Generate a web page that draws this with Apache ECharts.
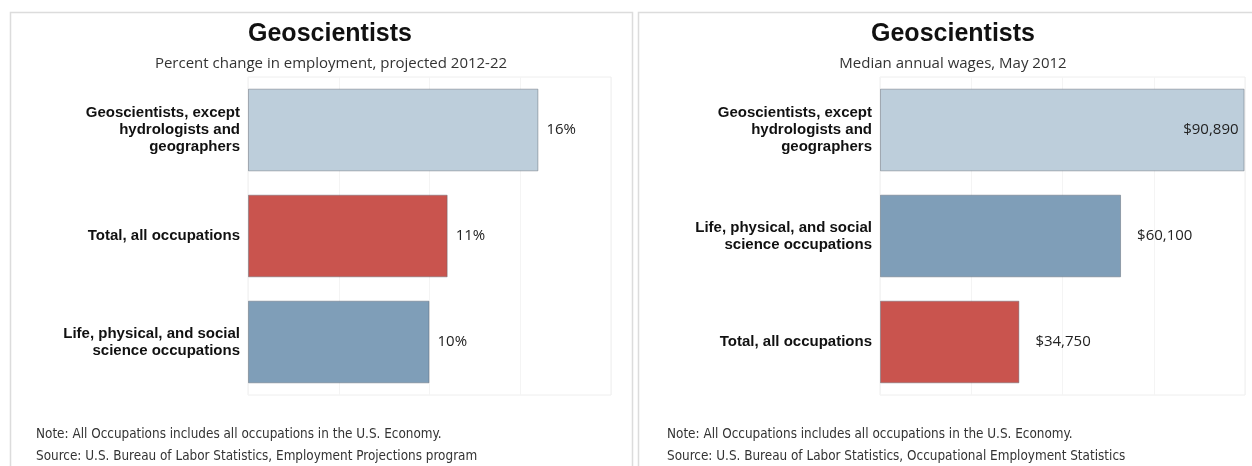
<!DOCTYPE html>
<html>
<head>
<meta charset="utf-8">
<script src="https://cdn.jsdelivr.net/npm/echarts@6/dist/echarts.min.js"></script>
<style>
  html, body { margin: 0; padding: 0; background: #fff; }
  #chart { width: 1252px; height: 466px; }
</style>
</head>
<body>
<div id="chart"></div>
<script>
// left panel: percent change in employment
const growthCats = ['Geoscientists, except\nhydrologists and\ngeographers', 'Total, all occupations', 'Life, physical, and social\nscience occupations']
const growthVals = [16, 11, 10]
const growthColors = ['#bdcedb', '#c9544e', '#7f9eb8']

// right panel: median annual wages
const wageCats = ['Geoscientists, except\nhydrologists and\ngeographers', 'Life, physical, and social\nscience occupations', 'Total, all occupations']
const wageVals = [90890, 60100, 34750]
const wageColors = ['#bdcedb', '#7f9eb8', '#c9544e']

const notes = 'Note: All Occupations includes all occupations in the U.S. Economy.'
const srcLeft = 'Source: U.S. Bureau of Labor Statistics, Employment Projections program'
const srcRight = 'Source: U.S. Bureau of Labor Statistics, Occupational Employment Statistics'

const myChart = echarts.init(document.getElementById('chart'))

const catLabel = {
  color: '#111',
  fontFamily: 'Liberation Sans',
  fontWeight: 'bold',
  fontSize: 15,
  lineHeight: 17,
  align: 'right',
  margin: 8
}

const footStyle = { fill: '#333', font: '13.4px "DejaVu Sans Condensed", "Liberation Sans"', textVerticalAlign: 'middle' }
const headStyle = { fontFamily: 'Liberation Sans', fontWeight: 'bold', fontSize: 25, color: '#111' }
const subStyle = { fontFamily: 'Open Sans', fontWeight: 'normal', fontSize: 15, color: '#333' }

function barItems (vals, colors) {
  return vals.map((v, i) => ({
    value: v,
    itemStyle: { color: colors[i], borderColor: 'rgba(90,100,110,0.45)', borderWidth: 1 }
  }))
}

const option = {
  animation: false,
  title: [
    { text: 'Geoscientists', left: 330, top: 22, padding: 0, textAlign: 'center', textStyle: headStyle },
    { text: 'Percent change in employment, projected 2012-22', left: 331, top: 56, padding: 0, textAlign: 'center', textStyle: subStyle },
    { text: 'Geoscientists', left: 953, top: 22, padding: 0, textAlign: 'center', textStyle: headStyle },
    { text: 'Median annual wages, May 2012', left: 953, top: 56, padding: 0, textAlign: 'center', textStyle: subStyle }
  ],
  graphic: [
    { type: 'rect', shape: { x: 10.5, y: 12.5, width: 622, height: 460 }, style: { fill: 'none', stroke: '#dcdcdc', lineWidth: 1.5 }, silent: true },
    { type: 'rect', shape: { x: 638.5, y: 12.5, width: 620, height: 460 }, style: { fill: 'none', stroke: '#dcdcdc', lineWidth: 1.5 }, silent: true },
    { type: 'text', x: 36, y: 435, style: Object.assign({ text: notes }, footStyle) },
    { type: 'text', x: 36, y: 457, style: Object.assign({ text: srcLeft }, footStyle) },
    { type: 'text', x: 667, y: 435, style: Object.assign({ text: notes }, footStyle) },
    { type: 'text', x: 667, y: 457, style: Object.assign({ text: srcRight }, footStyle) }
  ],
  grid: [
    { left: 248, width: 363, top: 77, height: 318, show: true, borderColor: '#eeeeee', borderWidth: 1 },
    { left: 880, width: 365, top: 77, height: 318, show: true, borderColor: '#eeeeee', borderWidth: 1 }
  ],
  xAxis: [
    { gridIndex: 0, type: 'value', min: 0, max: 20, interval: 5, axisLabel: { show: false }, axisLine: { show: false }, axisTick: { show: false }, splitLine: { show: true, lineStyle: { color: '#f4f4f4' } } },
    { gridIndex: 1, type: 'value', min: 0, max: 91000, interval: 22750, axisLabel: { show: false }, axisLine: { show: false }, axisTick: { show: false }, splitLine: { show: true, lineStyle: { color: '#f4f4f4' } } }
  ],
  yAxis: [
    { gridIndex: 0, type: 'category', inverse: true, data: growthCats, axisLine: { show: false }, axisTick: { show: false }, axisLabel: catLabel },
    { gridIndex: 1, type: 'category', inverse: true, data: wageCats, axisLine: { show: false }, axisTick: { show: false }, axisLabel: catLabel }
  ],
  series: [
    {
      type: 'bar',
      xAxisIndex: 0,
      yAxisIndex: 0,
      barCategoryGap: '22%',
      data: barItems(growthVals, growthColors),
      label: {
        show: true,
        position: 'right',
        distance: 8,
        color: '#222',
        fontFamily: 'Open Sans',
        fontSize: 15,
        formatter: p => p.value + '%'
      }
    },
    {
      type: 'bar',
      xAxisIndex: 1,
      yAxisIndex: 1,
      barCategoryGap: '22%',
      data: barItems(wageVals, wageColors).map((d, i) => {
        // the widest bar carries its value inside
        if (i === 0) d.label = { position: 'insideRight', distance: 6 }
        return d
      }),
      label: {
        show: true,
        position: 'right',
        distance: 16,
        color: '#222',
        fontFamily: 'Open Sans',
        fontSize: 15,
        formatter: p => '$' + p.value.toLocaleString('en-US')
      }
    }
  ]
}

myChart.setOption(option)
</script>
</body>
</html>
